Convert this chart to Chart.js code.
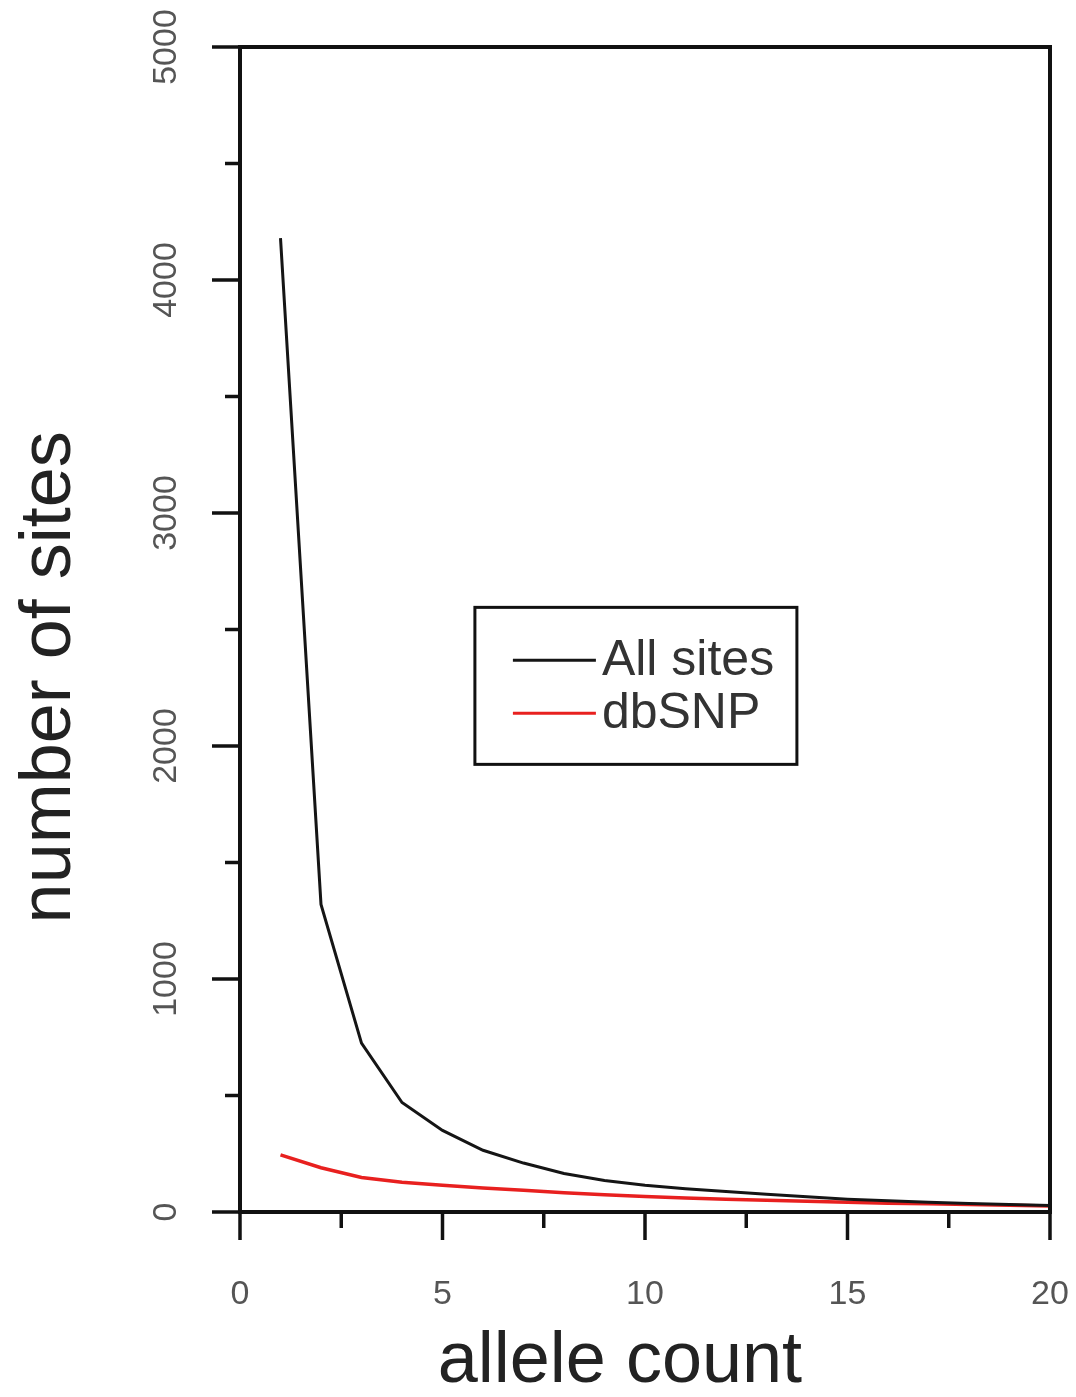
<!DOCTYPE html>
<html>
<head>
<meta charset="utf-8">
<script src="https://cdn.jsdelivr.net/npm/chart.js@4.4.1/dist/chart.umd.min.js"></script>
<style>
    html, body { margin: 0; padding: 0; background: #fff; }
    #wrap { width: 1076px; height: 1397px; }
</style>
</head>
<body>
<div id="wrap"><canvas id="sfs" width="1076" height="1397"></canvas></div>
<script>
// allele count on x, number of sites on y
const alleleCounts = [1, 2, 3, 4, 5, 6, 7, 8, 9, 10, 11, 12, 13, 14, 15, 16, 17, 18, 19, 20];
const allSites = [4180, 1320, 725, 470, 350, 265, 210, 165, 135, 115, 100, 88, 76, 65, 55, 48, 42, 37, 32, 28];
const dbSnpSites = [245, 190, 148, 128, 115, 103, 93, 83, 74, 66, 60, 55, 50, 46, 42, 38, 35, 32, 29, 26];
const seriesNames = ['All sites', 'dbSNP'];
const xMajorTicks = [0, 5, 10, 15, 20];
const yMajorTicks = [0, 1000, 2000, 3000, 4000, 5000];
const xTitle = 'allele count';
const yTitle = 'number of sites';

const LABEL_FONT = '"Liberation Sans", Arial, Helvetica, sans-serif';

function toPoints(values) {
    return alleleCounts.map((x, i) => ({ x: x, y: values[i] }));
}

// frame, outward ticks, rotated y labels, axis titles
const frameTicks = {
    id: 'frameTicks',
    afterDatasetsDraw: function(chart) {
        const ctx = chart.ctx;
        const area = chart.chartArea;
        const xs = chart.scales.x;
        const ys = chart.scales.y;
        const w = area.right - area.left;
        const h = area.bottom - area.top;
        ctx.save();
        ctx.strokeStyle = '#111';
        ctx.lineWidth = 4;
        ctx.lineCap = 'butt';
        ctx.strokeRect(area.left, area.top, w, h);

        ctx.lineWidth = 3.5;
        xs.ticks.forEach(t => {
            const px = xs.getPixelForValue(t.value);
            const len = xMajorTicks.includes(t.value) ? 28 : 16;
            ctx.beginPath();
            ctx.moveTo(px, area.bottom);
            ctx.lineTo(px, area.bottom + len);
            ctx.stroke();
        });
        ys.ticks.forEach(t => {
            const py = ys.getPixelForValue(t.value);
            const len = yMajorTicks.includes(t.value) ? 28 : 15;
            ctx.beginPath();
            ctx.moveTo(area.left, py);
            ctx.lineTo(area.left - len, py);
            ctx.stroke();
        });

        // y tick labels read bottom to top
        ctx.fillStyle = '#555';
        ctx.font = '34px ' + LABEL_FONT;
        ctx.textAlign = 'center';
        ctx.textBaseline = 'middle';
        yMajorTicks.forEach(v => {
            const py = ys.getPixelForValue(v);
            ctx.save();
            ctx.translate(area.left - 73, py);
            ctx.rotate(-Math.PI / 2);
            ctx.fillText(String(v), 0, 0);
            ctx.restore();
        });

        // axis titles, a bit off-centre like the original
        ctx.fillStyle = '#222';
        ctx.font = '72px ' + LABEL_FONT;
        ctx.fillText(xTitle, area.left + w * 0.469, area.bottom + 150);
        ctx.save();
        ctx.translate(area.left - 190, area.top + h * 0.541);
        ctx.rotate(-Math.PI / 2);
        ctx.fillText(yTitle, 0, 0);
        ctx.restore();
        ctx.restore();
    }
};

// boxed legend in the middle of the plot
const boxLegend = {
    id: 'boxLegend',
    afterDraw: function(chart) {
        const ctx = chart.ctx;
        const area = chart.chartArea;
        const w = area.right - area.left;
        const h = area.bottom - area.top;
        const left = area.left + w * 0.290;
        const top = area.top + h * 0.481;
        const boxW = 322;
        const boxH = 157;
        ctx.save();
        ctx.strokeStyle = '#111';
        ctx.lineWidth = 3;
        ctx.strokeRect(left, top, boxW, boxH);
        ctx.font = '50px ' + LABEL_FONT;
        ctx.textAlign = 'left';
        ctx.textBaseline = 'alphabetic';
        chart.data.datasets.forEach((ds, i) => {
            const rowY = top + 53 + i * 53;
            ctx.strokeStyle = ds.borderColor;
            ctx.lineWidth = 3;
            ctx.beginPath();
            ctx.moveTo(left + 38, rowY);
            ctx.lineTo(left + 121, rowY);
            ctx.stroke();
            ctx.fillStyle = '#333';
            ctx.fillText(ds.label, left + 127, rowY + 15);
        });
        ctx.restore();
    }
};

const chart = new Chart(document.getElementById('sfs').getContext('2d'), {
    type: 'scatter',
    data: {
        datasets: [
            {
                label: seriesNames[0],
                data: toPoints(allSites),
                showLine: true,
                borderColor: '#151515',
                borderWidth: 3,
                pointRadius: 0,
                tension: 0
            },
            {
                label: seriesNames[1],
                data: toPoints(dbSnpSites),
                showLine: true,
                borderColor: '#e8201f',
                borderWidth: 3.5,
                pointRadius: 0,
                tension: 0
            }
        ]
    },
    options: {
        responsive: false,
        devicePixelRatio: 1,
        animation: false,
        layout: { padding: { top: 47, right: 26, left: 0, bottom: 0 } },
        plugins: {
            legend: { display: false },
            tooltip: { enabled: false }
        },
        scales: {
            x: {
                type: 'linear',
                min: 0,
                max: 20,
                afterFit: function(scale) {
                    scale.height = 185;
                    scale.paddingLeft = 0;
                    scale.paddingRight = 0;
                },
                border: { display: false },
                grid: { display: false, drawTicks: false },
                ticks: {
                    stepSize: 2.5,
                    padding: 66,
                    color: '#555',
                    font: { family: LABEL_FONT, size: 34, lineHeight: 1 },
                    callback: function(value) {
                        return xMajorTicks.includes(value) ? String(value) : '';
                    }
                },
                title: { display: false }
            },
            y: {
                type: 'linear',
                min: 0,
                max: 5000,
                afterFit: function(scale) {
                    scale.width = 240;
                    scale.paddingTop = 0;
                    scale.paddingBottom = 0;
                },
                border: { display: false },
                grid: { display: false, drawTicks: false },
                ticks: {
                    stepSize: 500,
                    display: false
                },
                title: { display: false }
            }
        }
    },
    plugins: [frameTicks, boxLegend]
});
</script>
</body>
</html>
